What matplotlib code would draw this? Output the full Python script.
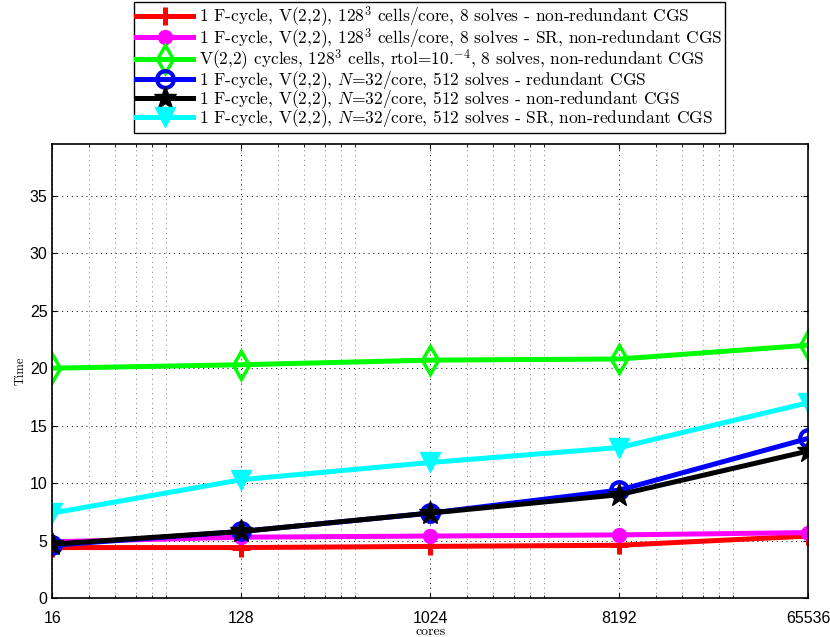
import numpy as np
import matplotlib
matplotlib.use("Agg")
import matplotlib.pyplot as plt
from matplotlib.ticker import FixedLocator, FixedFormatter, LogLocator, NullFormatter

plt.rcParams['mathtext.fontset'] = 'cm'

# данные
cores = [16, 128, 1024, 8192, 65536]
core_labels = ['16', '128', '1024', '8192', '65536']

t_red = [4.4, 4.4, 4.5, 4.6, 5.4]
t_magenta = [4.9, 5.3, 5.4, 5.5, 5.7]
t_green = [20.0, 20.3, 20.7, 20.8, 22.0]
t_blue = [4.6, 5.8, 7.4, 9.4, 13.9]
t_black = [4.7, 5.8, 7.4, 9.0, 12.8]
t_cyan = [7.4, 10.3, 11.8, 13.1, 17.0]

labels = [
    r"1 F-cycle, V(2,2), 128$^3$ cells/core, 8 solves - non-redundant CGS",
    r"1 F-cycle, V(2,2), 128$^3$ cells/core, 8 solves - SR, non-redundant CGS",
    r"V(2,2) cycles, 128$^3$ cells, rtol=10.$^{-4}$, 8 solves, non-redundant CGS",
    r"1 F-cycle, V(2,2), $N$=32/core, 512 solves - redundant CGS",
    r"1 F-cycle, V(2,2), $N$=32/core, 512 solves - non-redundant CGS",
    r"1 F-cycle, V(2,2), $N$=32/core, 512 solves - SR, non-redundant CGS",
]

fig = plt.figure(figsize=(8.3, 6.37), dpi=100)
ax = fig.add_axes([0.063, 0.061, 0.911, 0.713])

lw = 3.6
ax.plot(cores, t_red, color='red', lw=lw, marker='+', ms=13, mew=3.6, label=labels[0])
ax.plot(cores, t_magenta, color='magenta', lw=lw, marker='o', ms=10, mfc='magenta', label=labels[1])
ax.plot(cores, t_green, color='#00ff00', lw=lw, marker='d', ms=14, mfc='none', mew=2.5, label=labels[2])
ax.plot(cores, t_blue, color='blue', lw=lw, marker='o', ms=12, mfc='none', mew=3, label=labels[3])
ax.plot(cores, t_black, color='black', lw=lw, marker='*', ms=17, mfc='black', label=labels[4])
ax.plot(cores, t_cyan, color='cyan', lw=lw, marker='v', ms=15, mfc='cyan', label=labels[5])

ax.set_xscale('log', base=2)
ax.set_xlim(16, 65536)
ax.set_ylim(0, 39.5)
ax.xaxis.set_major_locator(FixedLocator(cores))
ax.xaxis.set_major_formatter(FixedFormatter(core_labels))
ax.xaxis.set_minor_locator(LogLocator(base=8, subs=range(2, 8)))
ax.xaxis.set_minor_formatter(NullFormatter())
ax.set_yticks([0, 5, 10, 15, 20, 25, 30, 35])

ax.grid(True, which='major', ls=(0, (1, 4)), color='black', lw=0.7)
ax.grid(True, which='minor', axis='x', ls=(0, (1, 4)), color='gray', lw=0.7)
ax.tick_params(direction='in', top=True, right=True, which='both', labelsize=11.5)
ax.tick_params(axis='x', pad=9)
for lab in ax.get_xticklabels() + ax.get_yticklabels():
    lab.set_family('Liberation Sans')
for s in ax.spines.values():
    s.set_linewidth(1.2)

ax.set_xlabel('cores', family='cmr10', fontsize=10, labelpad=0)
ax.set_ylabel('Time', family='cmr10', fontsize=9, labelpad=2)

leg = fig.legend(loc='upper center', bbox_to_anchor=(0.517, 0.997),
                 prop={'family': 'cmr10', 'size': 12.5}, handlelength=3.3,
                 handletextpad=0.3, labelspacing=-0.2, borderpad=0.15,
                 borderaxespad=0.0,
                 fancybox=False, edgecolor='black', framealpha=1)
leg.get_frame().set_linewidth(1.0)

fig.savefig('out.png', dpi=100)
